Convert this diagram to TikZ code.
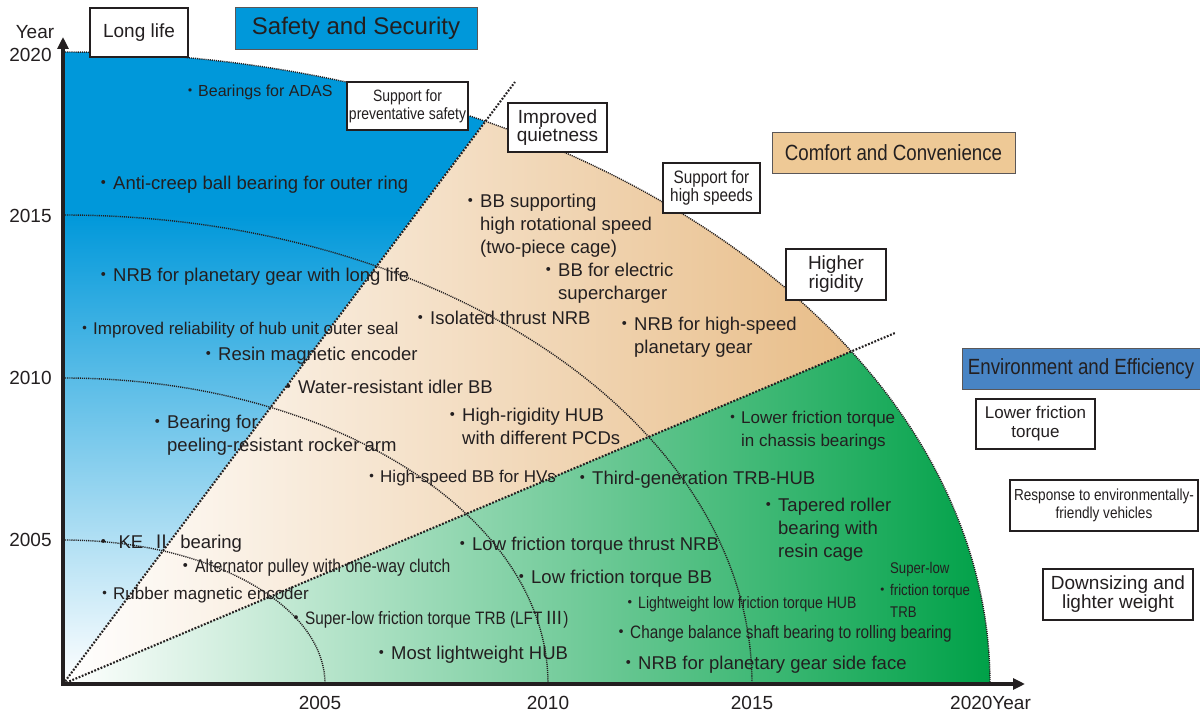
\documentclass[tikz,border=0pt]{standalone}
\usepackage{fontspec}
\setmainfont{Liberation Sans}
\newfontfamily\narrowfont[FakeStretch=0.85]{Liberation Sans}
\newfontfamily\cjk{Noto Sans CJK JP}
\usepackage{tikz}
\usetikzlibrary{arrows.meta,shadows}
\definecolor{ink}{RGB}{35,31,32}
\definecolor{safeblue}{RGB}{0,152,218}
\definecolor{comforttan}{RGB}{232,189,136}
\definecolor{tanbox}{RGB}{238,201,150}
\definecolor{envgreen}{RGB}{0,161,72}
\definecolor{envblue}{RGB}{72,132,196}
\newcommand\itm{{\cjk ・}}
\newcommand\ind{\hphantom{\itm}}
\newcommand\fsz[2]{\fontsize{#1}{#2}\selectfont}

\begin{document}
\begin{tikzpicture}[x=1pt,y=1pt,
  item/.style={anchor=west,inner sep=0pt,align=left,text=ink,font=\fsz{18.5}{23}},
  tag/.style={draw=ink,line width=1.6pt,fill=white,align=center,inner sep=0pt,text=ink,
    drop shadow={shadow xshift=1.3pt,shadow yshift=-1.3pt,fill=black!45,opacity=1}},
  theme/.style={draw=ink!75,line width=0.9pt,inner sep=0pt,text=ink,align=center},
  ring/.style={ink,line width=1.4pt,dash pattern=on 1.1pt off 1pt},
  split/.style={ink,line width=2.1pt,dash pattern=on 1.8pt off 1.6pt},
  axis/.style={ink,line width=3.5pt,{Triangle[length=12pt,width=11pt]}-{Triangle[length=12pt,width=11pt]}},
  lbl/.style={inner sep=0pt,text=ink,font=\fsz{19}{19}}]
\useasboundingbox (-63,-31) rectangle (1137,684);
\fill[white] (-63,-31) rectangle (1137,684);

\begin{scope}
\clip (0,0) -- (0,632) arc[start angle=90,end angle=62.9,x radius=927,y radius=632] -- cycle;
\fill[safeblue] (0,0) rectangle (480,640);
\shade[bottom color=white,top color=safeblue] (0,0) rectangle (480,470);
\end{scope}
\begin{scope}
\clip (0,0) -- (62.9:927 and 632) arc[start angle=62.9,end angle=31.75,x radius=927,y radius=632] -- cycle;
\fill[comforttan] (0,0) rectangle (930,640);
\shade[left color=white,right color=comforttan] (0,0) rectangle (790,640);
\end{scope}
\begin{scope}
\clip (0,0) -- (31.75:927 and 632) arc[start angle=31.75,end angle=0,x radius=927,y radius=632] -- cycle;
\shade[left color=white,right color=envgreen] (0,0) rectangle (927,640);
\end{scope}

\draw[ring] (0,144) arc[start angle=90,end angle=0,x radius=262,y radius=144];
\draw[ring] (0,306) arc[start angle=90,end angle=0,x radius=485,y radius=306];
\draw[ring] (0,469) arc[start angle=90,end angle=0,x radius=689,y radius=469];
\draw[ring] (0,632) arc[start angle=90,end angle=0,x radius=927,y radius=632];

\coordinate (O) at (0,0);
\coordinate (cut1) at (452,602);
\coordinate (cut2) at (832,351);
\coordinate (ytop) at (0,647);
\coordinate (xend) at (962,0);
\draw[split] (O) -- (cut1);
\draw[split] (O) -- (cut2);
\draw[axis] (ytop) -- (O) -- (xend);

\node[lbl] (yname) at (-28,652) {Year};
\node[lbl] (y2020) at (-32.5,629) {2020};
\node[lbl] (y2015) at (-32.5,468) {2015};
\node[lbl] (y2010) at (-32.5,306) {2010};
\node[lbl] (y2005) at (-32.5,144) {2005};
\node[lbl] (x2005) at (257,-19) {2005};
\node[lbl] (x2010) at (485,-19) {2010};
\node[lbl] (x2015) at (689,-19) {2015};
\node[lbl,anchor=west] (x2020) at (887,-19) {2020Year};

\node[theme,fill=safeblue,minimum width=242pt,minimum height=42pt,font=\fsz{24}{24}] (safety) at (293,656) {Safety and Security};
\node[theme,fill=tanbox,minimum width=243pt,minimum height=41pt,font=\narrowfont\fsz{22}{22}] (comfort) at (830.5,531.5) {Comfort and Convenience};
\node[theme,fill=envblue,minimum width=238pt,minimum height=41pt,font=\narrowfont\fsz{22}{22}] (environ) at (1018,315.5) {Environment and Efficiency};

\node[tag,minimum width=98pt,minimum height=49pt,font=\fsz{19}{19}] (longlife) at (76,651.5) {Long life};
\node[tag,minimum width=121pt,minimum height=48pt,font=\narrowfont\fsz{16.4}{18}] (prevsafe) at (344.5,578) {Support for\\preventative safety};
\node[tag,minimum width=99pt,minimum height=49pt,font=\fsz{19}{18}] (quiet) at (494.5,556.5) {Improved\\quietness};
\node[tag,minimum width=97pt,minimum height=50pt,font=\narrowfont\fsz{18}{18}] (highspeed) at (648.5,496) {Support for\\high speeds};
\node[tag,minimum width=100pt,minimum height=51pt,font=\fsz{19}{19}] (rigid) at (773,409.5) {Higher\\rigidity};
\node[tag,minimum width=119pt,minimum height=50pt,font=\fsz{17}{19}] (lowfric) at (972.5,260) {Lower friction\\torque};
\node[tag,minimum width=188pt,minimum height=51pt,font=\narrowfont\fsz{16}{18}] (ecocar) at (1041,178.5) {Response to environmentally-\\friendly vehicles};
\node[tag,minimum width=150pt,minimum height=51pt,font=\fsz{19}{19}] (downsize) at (1055,89.5) {Downsizing and\\lighter weight};

\node[item,font=\fsz{16}{20}] (adas) at (119,592) {\itm Bearings for ADAS};
\node[item] (anticreep) at (31.5,499) {\itm Anti-creep ball bearing for outer ring};
\node[item] (longnrb) at (31.5,407) {\itm NRB for planetary gear with long life};
\node[item,font=\fsz{17}{21}] (hubseal) at (13,354) {\itm Improved reliability of hub unit outer seal};
\node[item] (resinenc) at (136.5,328) {\itm Resin magnetic encoder};
\node[item] (rocker) at (85.5,248.5) {\itm Bearing for\\\ind peeling-resistant rocker arm};
\node[item] (ke) at (31.75,140) {\itm\ KE\enspace{\cjk Ⅱ}\enspace bearing};
\node[item,font=\fsz{17}{21}] (rubberenc) at (33,89) {\itm Rubber magnetic encoder};
\node[item,font=\narrowfont\fsz{18.5}{22}] (pulley) at (113.5,116) {\itm Alternator pulley with one-way clutch};

\node[item] (rotbb) at (398.5,458) {\itm BB supporting\\\ind high rotational speed\\\ind (two-piece cage)};
\node[item] (eboost) at (476.5,400.5) {\itm BB for electric\\\ind supercharger};
\node[item] (isothrust) at (348.5,366) {\itm Isolated thrust NRB};
\node[item] (planetnrb) at (552.5,346.5) {\itm NRB for high-speed\\\ind planetary gear};
\node[item] (idler) at (216.5,297) {\itm Water-resistant idler BB};
\node[item] (pcdhub) at (380.5,258) {\itm High-rigidity HUB\\\ind with different PCDs};
\node[item,font=\fsz{17}{21}] (hvbb) at (300,206) {\itm High-speed BB for HVs};

\node[item,font=\fsz{17}{23}] (chassis) at (661,253.5) {\itm Lower friction torque\\\ind in chassis bearings};
\node[item] (trbhub) at (510.5,204) {\itm Third-generation TRB-HUB};
\node[item] (resincage) at (696.5,154) {\itm Tapered roller\\\ind bearing with\\\ind resin cage};
\node[item] (thrustnrb) at (390.5,138) {\itm Low friction torque thrust NRB};
\node[item] (lowbb) at (449.5,105) {\itm Low friction torque BB};
\node[item,font=\narrowfont\fsz{16.5}{20}] (lighthub) at (558.5,80) {\itm Lightweight low friction torque HUB};
\node[item,font=\narrowfont\fsz{15.5}{22}] (sltrb) at (811.5,94) {\ind Super-low\\\itm friction torque\\\ind TRB};
\node[item,font=\narrowfont\fsz{18}{22}] (lft) at (224,64) {\itm Super-low friction torque TRB (LFT\,{\cjk Ⅲ})};
\node[item,font=\narrowfont\fsz{18}{22}] (balance) at (549,50) {\itm Change balance shaft bearing to rolling bearing};
\node[item] (mosthub) at (309.5,29) {\itm Most lightweight HUB};
\node[item] (sideface) at (556.5,19) {\itm NRB for planetary gear side face};
\end{tikzpicture}
\end{document}
